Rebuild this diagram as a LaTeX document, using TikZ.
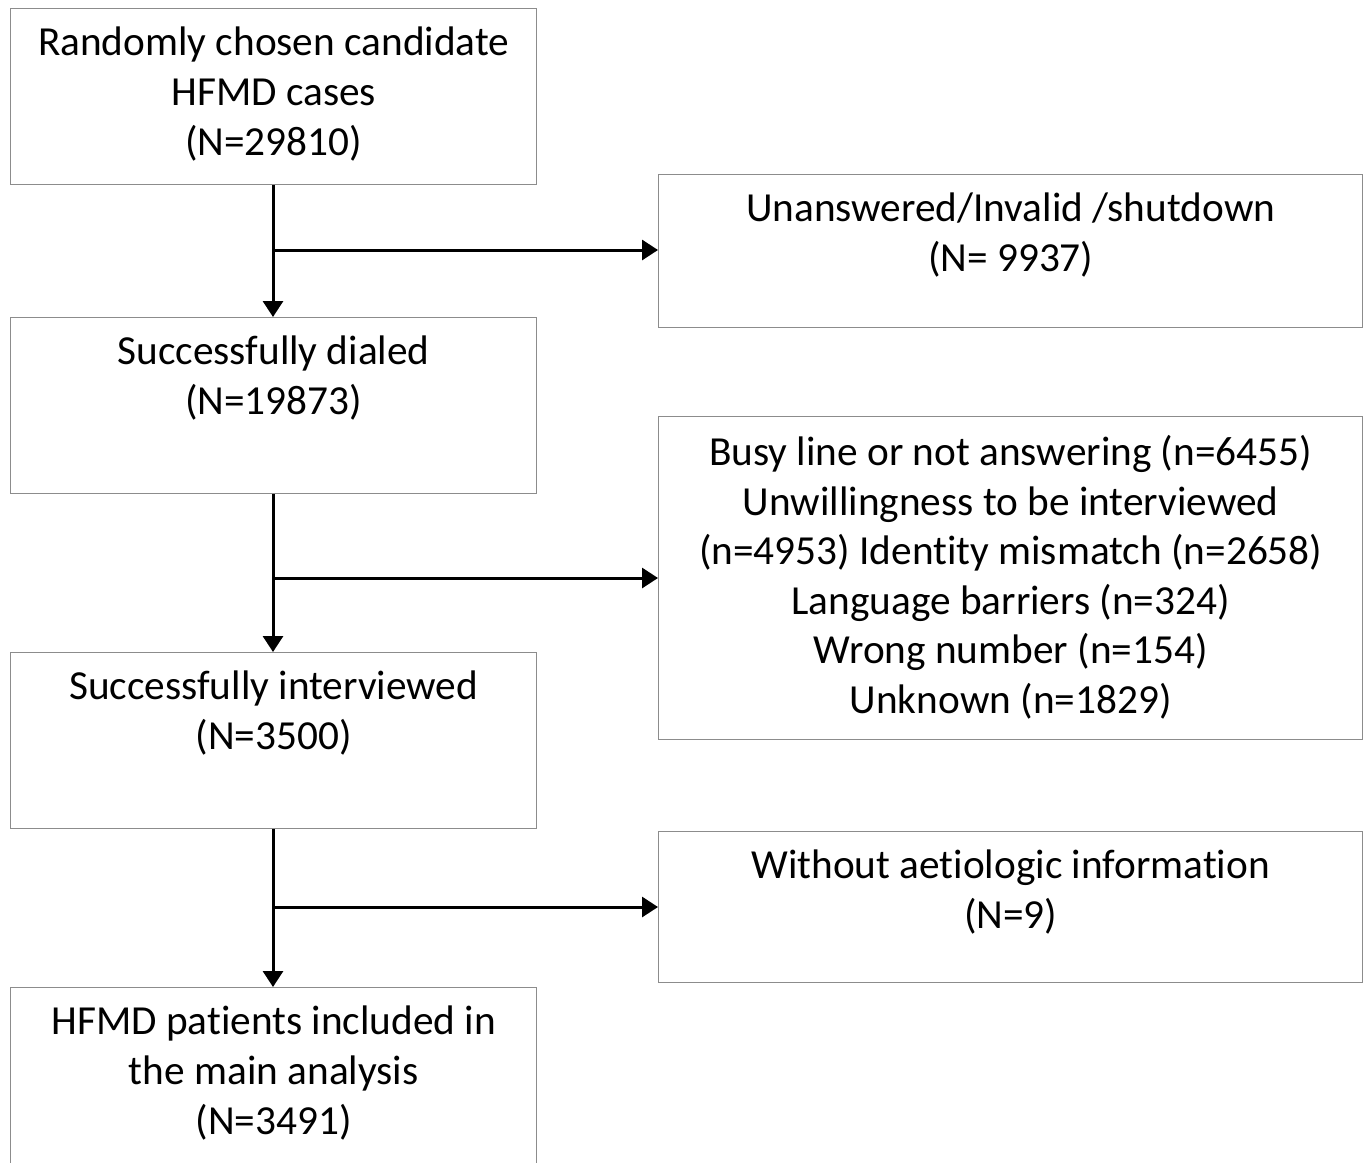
\documentclass[tikz,border=0pt]{standalone}
\usepackage{fontspec}
\setmainfont[Ligatures=NoCommon]{Carlito}
\usetikzlibrary{arrows.meta}
\begin{document}
\begin{tikzpicture}[x=1pt,y=-1pt,
  box/.style={draw=black!45,line width=1.4pt,rectangle,inner sep=0pt,anchor=north west},
  txt/.style={align=center,inner sep=0pt,anchor=north,font=\fontsize{41.3}{49.6}\selectfont},
  arr/.style={line width=3pt,-{Triangle[length=16pt,width=20pt]}},
  ln/.style={line width=3pt}]
\useasboundingbox (0,0) rectangle (1367,1162);
\fill[white] (0,0) rectangle (1367,1162);
% left boxes
\node[box,minimum width=526pt,minimum height=176pt] (b1) at (10,8) {};
\node[box,minimum width=526pt,minimum height=176pt] (b2) at (10,317) {};
\node[box,minimum width=526pt,minimum height=176pt] (b3) at (10,652) {};
\node[box,minimum width=526pt,minimum height=200pt] (b4) at (10,987) {};
% right boxes
\node[box,minimum width=704pt,minimum height=153pt] (r1) at (658,174) {};
\node[box,minimum width=704pt,minimum height=323pt] (r2) at (658,416) {};
\node[box,minimum width=704pt,minimum height=151pt] (r3) at (658,831) {};
% texts
\node[txt] (t1) at ([yshift=-19pt]b1.north) {Randomly chosen candidate\\HFMD cases\\(N=29810)};
\node[txt] (t2) at ([yshift=-19pt]b2.north) {Successfully dialed\\(N=19873)};
\node[txt] (t3) at ([yshift=-19pt]b3.north) {Successfully interviewed\\(N=3500)};
\node[txt] (t4) at ([yshift=-19pt]b4.north) {HFMD patients included in\\the main analysis\\(N=3491)};
\node[txt] (s1) at ([yshift=-19pt]r1.north) {Unanswered/Invalid /shutdown\\(N= 9937)};
\node[txt] (s2) at ([yshift=-19pt]r2.north) {Busy line or not answering (n=6455)\\Unwillingness to be interviewed\\(n=4953) Identity mismatch (n=2658)\\Language barriers (n=324)\\Wrong number (n=154)\\Unknown (n=1829)};
\node[txt] (s3) at ([yshift=-19pt]r3.north) {Without aetiologic information\\(N=9)};
% connectors
\coordinate (j1) at (273,250);
\coordinate (j2) at (273,578);
\coordinate (j3) at (273,907);
\draw[arr] (b1.south -| j1) -- (b2.north -| j1);
\draw[arr] (b2.south -| j2) -- (b3.north -| j2);
\draw[arr] (b3.south -| j3) -- (b4.north -| j3);
\draw[arr] (j1) -- (j1 -| r1.west);
\draw[arr] (j2) -- (j2 -| r2.west);
\draw[arr] (j3) -- (j3 -| r3.west);
\end{tikzpicture}
\end{document}
